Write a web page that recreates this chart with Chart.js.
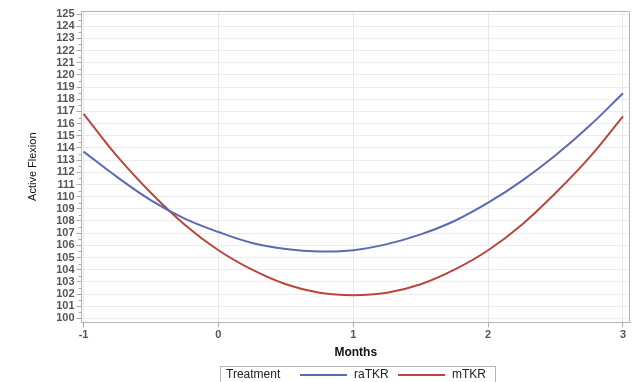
<!DOCTYPE html>
<html><head><meta charset="utf-8">
<script src="https://cdn.jsdelivr.net/npm/chart.js@4/dist/chart.umd.min.js"></script>
<style>html,body{margin:0;padding:0;background:#fff;}#wrap{width:633px;height:382px;position:relative;}</style>
</head><body><div id="wrap"><canvas id="c" width="633" height="382"></canvas></div>
<script>
const months = [-1,-0.75,-0.5,-0.25,0,0.25,0.5,0.75,1,1.25,1.5,1.75,2,2.25,2.5,2.75,3];
const raTKR = [113.7,111.6,109.7,108.2,107.1,106.2,105.7,105.5,105.6,106.1,106.9,108.0,109.5,111.3,113.4,115.8,118.5];
const mTKR  = [116.8,113.3,110.3,107.7,105.6,104.0,102.8,102.1,101.9,102.1,102.8,104.0,105.6,107.7,110.3,113.2,116.6];
const xTicks = [-1,0,1,2,3];
const yTicks = [100,101,102,103,104,105,106,107,108,109,110,111,112,113,114,115,116,117,118,119,120,121,122,123,124,125];
const seriesNames = ['raTKR','mTKR'];
const seriesColors = ['#5b6ab3','#b9473f'];
const legendTitle = 'Treatment';

const FONT = "'Liberation Sans', Arial, sans-serif";

const extras = {
  id:'extras',
  afterDraw(chart){
    const {ctx, chartArea:a, scales:{x,y}} = chart;
    ctx.save();
    ctx.strokeStyle='#b4b4b4'; ctx.lineWidth=1;
    ctx.beginPath();
    ctx.moveTo(a.left, a.top+0.5); ctx.lineTo(a.right-0.5, a.top+0.5); ctx.lineTo(a.right-0.5, a.bottom);
    ctx.stroke();
    ctx.strokeStyle='#aaa';
    ctx.beginPath();
    for (let i=0;i<yTicks.length-1;i++){
      const py = Math.round(y.getPixelForValue(yTicks[i]+0.5))+0.5;
      ctx.moveTo(a.left-3, py); ctx.lineTo(a.left, py);
    }
    ctx.stroke();
    const top=366, h=16, left=220, right=495;
    ctx.strokeStyle='#b4b4b4';
    ctx.strokeRect(left+0.5, top+0.5, right-left, h+2);
    ctx.fillStyle='#222'; ctx.font="12px "+FONT; ctx.textBaseline='middle';
    const cy = top+h/2+1;
    ctx.fillText(legendTitle, left+6, cy);
    const items = [{x1:300,x2:347,tx:354},{x1:398,x2:445,tx:452}];
    chart.data.datasets.forEach((ds,i)=>{
      const it = items[i];
      ctx.strokeStyle=ds.borderColor; ctx.lineWidth=2;
      ctx.beginPath(); ctx.moveTo(it.x1, cy); ctx.lineTo(it.x2, cy); ctx.stroke();
      ctx.fillStyle='#222';
      ctx.fillText(ds.label, it.tx, cy);
    });
    ctx.restore();
  }
};

new Chart(document.getElementById('c'), {
  type:'line',
  data:{
    datasets:[
      {label:seriesNames[0], data:months.map((m,i)=>({x:m,y:raTKR[i]})), borderColor:seriesColors[0], borderWidth:2, pointRadius:0, tension:0.4, fill:false},
      {label:seriesNames[1], data:months.map((m,i)=>({x:m,y:mTKR[i]})), borderColor:seriesColors[1], borderWidth:2, pointRadius:0, tension:0.4, fill:false}
    ]
  },
  options:{
    responsive:false, animation:false,
    layout:{padding:{top:11,right:3,bottom:22,left:26}},
    plugins:{legend:{display:false}, tooltip:{enabled:false}},
    scales:{
      x:{type:'linear', min:-1.015, max:3.052,
        afterBuildTicks(s){ s.ticks = xTicks.map(v=>({value:v})); },
        ticks:{color:'#555', font:{family:FONT,size:11,weight:'bold'}, padding:1, maxRotation:0},
        grid:{color:'#e8e8e8', tickColor:'#aaa', tickLength:5},
        border:{color:'#b4b4b4'},
        title:{display:true, text:'Months', color:'#111', font:{family:FONT,size:12,weight:'bold'}, padding:{top:3,bottom:0}}
      },
      y:{type:'linear', min:99.67, max:125.25,
        afterBuildTicks(s){ s.ticks = yTicks.map(v=>({value:v})); },
        ticks:{color:'#555', font:{family:FONT,size:11,weight:'bold'}, padding:2, autoSkip:false},
        grid:{color:'#ececec', tickColor:'#aaa', tickLength:5},
        border:{color:'#b4b4b4'},
        title:{display:true, text:'Active Flexion', color:'#111', font:{family:"'Liberation Sans Narrow', "+FONT,size:11}, padding:{top:0,bottom:15}}
      }
    }
  },
  plugins:[extras]
});
</script></body></html>
